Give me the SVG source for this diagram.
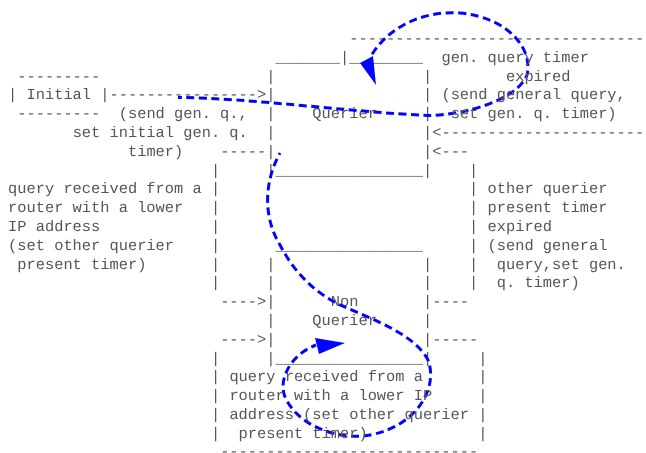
<svg xmlns="http://www.w3.org/2000/svg" width="646" height="453" viewBox="0 0 646 453">
<style>
  text { font-family: "Liberation Mono", "Courier New", monospace; font-size: 15.36px; fill: #555555; white-space: pre; text-rendering: geometricPrecision; }
  #diagram { will-change: transform; }
  .flow { fill: none; stroke: #0000ff; stroke-width: 3; stroke-dasharray: 8 4.5; }
  .head { fill: #0000ff; stroke: none; }
</style>
<rect width="646" height="453" fill="#ffffff"/>
<g id="diagram" opacity="0.99">
<g id="initial">
  <text x="17.32" y="80.5">---------</text>
  <text x="8.1" y="99.3">| Initial |</text>
  <text x="17.32" y="118.1">---------</text>
</g>

<g id="querier">
  <text x="275.48" y="61.7">_______|________</text>
  <text x="266.26" y="80.5" xml:space="preserve">|                |</text>
  <text x="266.26" y="99.3" xml:space="preserve">|                |</text>
  <text x="266.26" y="118.1" xml:space="preserve">|    Querier     |</text>
  <text x="266.26" y="136.9" xml:space="preserve">|                |</text>
  <text x="266.26" y="155.7" xml:space="preserve">|                |</text>
  <text x="266.26" y="174.5">|________________|</text>
</g>

<g id="non-querier">
  <text x="275.48" y="249.7">________________</text>
  <text x="266.26" y="268.5" xml:space="preserve">|                |</text>
  <text x="266.26" y="287.3" xml:space="preserve">|                |</text>
  <text x="266.26" y="306.1" xml:space="preserve">|      Non       |</text>
  <text x="266.26" y="324.9" xml:space="preserve">|    Querier     |</text>
  <text x="266.26" y="343.7" xml:space="preserve">|                |</text>
  <text x="266.26" y="362.5">|________________|</text>
</g>

<g id="connectors">
  <g id="ascii-edges">
    <text x="109.52" y="99.3">----------------&gt;</text>
    <text x="349.24" y="42.9">--------------------------------</text>
    <text x="432.22" y="136.9">&lt;----------------------</text>
    <text x="220.16" y="155.7">-----</text>
    <text x="432.22" y="155.7">&lt;---</text>
    <text x="210.94" y="174.5">|</text>
    <text x="210.94" y="193.3">|</text>
    <text x="210.94" y="212.1">|</text>
    <text x="210.94" y="230.9">|</text>
    <text x="210.94" y="249.7">|</text>
    <text x="210.94" y="268.5">|</text>
    <text x="210.94" y="287.3">|</text>
    <text x="469.1" y="174.5">|</text>
    <text x="469.1" y="193.3">|</text>
    <text x="469.1" y="212.1">|</text>
    <text x="469.1" y="230.9">|</text>
    <text x="469.1" y="249.7">|</text>
    <text x="469.1" y="268.5">|</text>
    <text x="469.1" y="287.3">|</text>
    <text x="220.16" y="306.1">----&gt;</text>
    <text x="432.22" y="306.1">----</text>
    <text x="220.16" y="343.7">----&gt;</text>
    <text x="432.22" y="343.7">-----</text>
    <text x="210.94" y="362.5">|</text>
    <text x="210.94" y="381.3">|</text>
    <text x="210.94" y="400.1">|</text>
    <text x="210.94" y="418.9">|</text>
    <text x="210.94" y="437.7">|</text>
    <text x="478.32" y="362.5">|</text>
    <text x="478.32" y="381.3">|</text>
    <text x="478.32" y="400.1">|</text>
    <text x="478.32" y="418.9">|</text>
    <text x="478.32" y="437.7">|</text>
    <text x="220.16" y="455.5">----------------------------</text>
  </g>
  <g id="overlay-arrows">
    <path class="flow" stroke-dashoffset="4" d="M178,97.5 C250,98 350,112 428,115.5 C465,115 517,100 527,75 C533,50 510,18 460,13 C420,10 385,30 370,58"/>
    <polygon class="head" points="360,63 373,56 376,85"/>
    <path class="flow" stroke-dashoffset="6" d="M280,153 C265,180 262,215 280,245 C292,268 310,290 340,305 C375,320 415,335 428,360 C438,385 420,425 370,435 C345,440 300,430 285,397 C278,380 290,355 316,345"/>
    <polygon class="head" points="315,338 319,354 345,343"/>
  </g>
</g>

<g id="labels">
  <text x="441.44" y="61.7">gen. query timer</text>
  <text x="505.98" y="80.5">expired</text>
  <text x="441.44" y="99.3">(send general query,</text>
  <text x="118.74" y="118.1">(send gen. q.,</text>
  <text x="450.66" y="118.1">set gen. q. timer)</text>
  <text x="72.64" y="136.9">set initial gen. q.</text>
  <text x="127.96" y="155.7">timer)</text>
  <text x="8.1" y="193.3">query received from a</text>
  <text x="487.54" y="193.3">other querier</text>
  <text x="8.1" y="212.1">router with a lower</text>
  <text x="487.54" y="212.1">present timer</text>
  <text x="8.1" y="230.9">IP address</text>
  <text x="487.54" y="230.9">expired</text>
  <text x="8.1" y="249.7">(set other querier</text>
  <text x="487.54" y="249.7">(send general</text>
  <text x="17.32" y="268.5">present timer)</text>
  <text x="496.76" y="268.5">query,set gen.</text>
  <text x="496.76" y="287.3">q. timer)</text>
  <text x="229.38" y="381.3">query received from a</text>
  <text x="229.38" y="400.1">router with a lower IP</text>
  <text x="229.38" y="418.9">address (set other querier</text>
  <text x="238.6" y="437.7">present timer)</text>
</g>
</g>
</svg>
